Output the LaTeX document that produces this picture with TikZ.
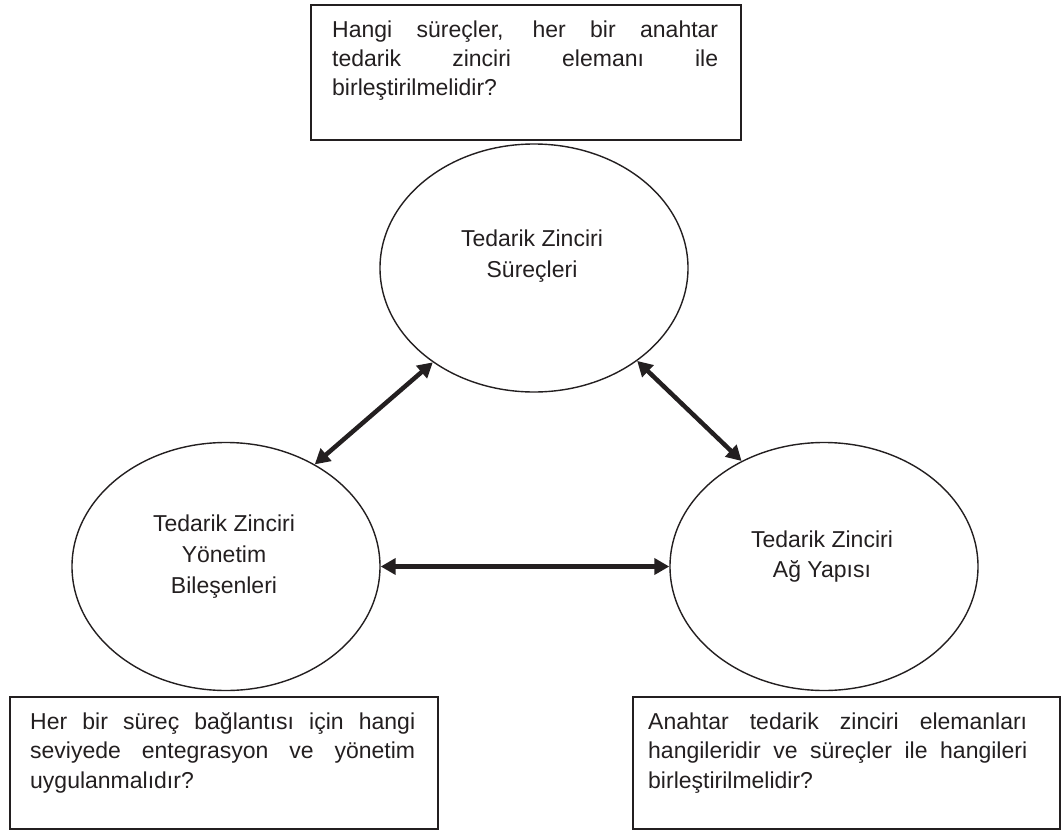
\documentclass[tikz,border=0pt]{standalone}
\usepackage{fontspec}
\setmainfont{Liberation Sans}
\usetikzlibrary{shapes.geometric,arrows.meta}
\definecolor{ink}{RGB}{35,31,32}
\tikzset{
  qbox/.style={draw=ink, line width=1.6pt, inner sep=0pt, anchor=north west},
  topic/.style={draw=ink, line width=1.4pt, ellipse, inner sep=0pt,
                minimum width=308pt, minimum height=248pt},
  txt/.style={text=ink, inner sep=0pt, font=\fontsize{23}{30}\selectfont},
  line/.style={txt, anchor=base west},
  cline/.style={txt, anchor=base},
  link/.style={draw=ink, line width=4.5pt,
               {Triangle[length=15pt,width=16pt]}-{Triangle[length=15pt,width=16pt]}}
}
\newcommand{\jline}[2]{\makebox[#1pt][s]{#2}}
\begin{document}
\begin{tikzpicture}[x=1pt, y=-1pt]
  \useasboundingbox (0,0) rectangle (1061,830);

  % question boxes
  \node[qbox, minimum width=430pt, minimum height=135pt] (qtop) at (310,4) {};
  \node[qbox, minimum width=428pt, minimum height=132pt] (qleft) at (9,696) {};
  \node[qbox, minimum width=427pt, minimum height=132pt] (qright) at (632,696) {};

  \node[line] (qt1) at (332,37) {\jline{386}{Hangi süreçler, her bir anahtar}};
  \node[line] (qt2) at (332,66) {\jline{386}{tedarik zinciri elemanı ile}};
  \node[line] (qt3) at (332,95) {birleştirilmelidir?};

  \node[line] (ql1) at (30,729) {\jline{385}{Her bir süreç bağlantısı için hangi}};
  \node[line] (ql2) at (30,758.5) {\jline{385}{seviyede entegrasyon ve yönetim}};
  \node[line] (ql3) at (30,788) {uygulanmalıdır?};

  \node[line] (qr1) at (648,729) {\jline{379}{Anahtar tedarik zinciri elemanları}};
  \node[line] (qr2) at (648,758.5) {\jline{379}{hangileridir ve süreçler ile hangileri}};
  \node[line] (qr3) at (648,788) {birleştirilmelidir?};

  % the three building blocks
  \node[topic] (T) at (534,268) {};
  \node[topic] (L) at (226,566.5) {};
  \node[topic] (R) at (824,566.5) {};

  \node[cline] (t1) at (532,246) {Tedarik Zinciri};
  \node[cline] (t2) at (532,277) {Süreçleri};

  \node[cline] (l1) at (224,531) {Tedarik Zinciri};
  \node[cline] (l2) at (224,562) {Yönetim};
  \node[cline] (l3) at (224,593) {Bileşenleri};

  \node[cline] (r1) at (822,547) {Tedarik Zinciri};
  \node[cline] (r2) at (822,577) {Ağ Yapısı};

  % two-way links
  \draw[link] (L.49.3) -- (T.223.9);
  \draw[link] (T.318.1) -- (R.128.9);
  \draw[link] (L.east) -- (R.west);
\end{tikzpicture}
\end{document}
